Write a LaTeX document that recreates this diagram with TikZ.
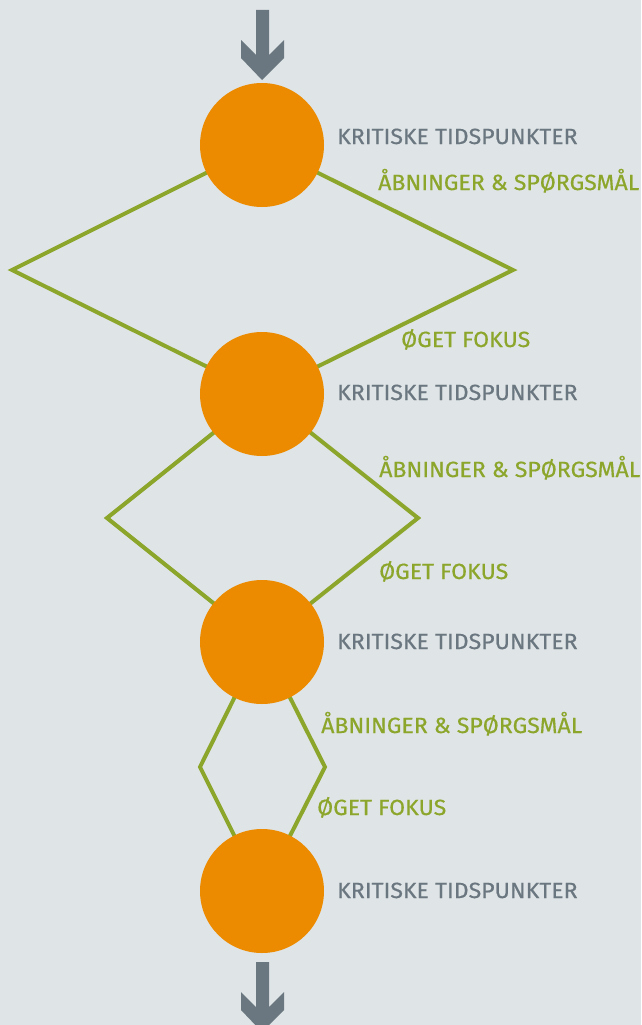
\documentclass[tikz,border=0pt]{standalone}
\usepackage{fontspec}
\setmainfont{Fira Sans}[FakeStretch=1.05,FakeBold=0.5]
\usepackage{tikz}
\usetikzlibrary{calc}

\definecolor{hintergrund}{RGB}{223,228,230}
\definecolor{orangefarbe}{RGB}{236,139,0}
\definecolor{gruen}{RGB}{139,166,43}
\definecolor{grautext}{RGB}{107,119,128}

\begin{document}
\begin{tikzpicture}[x=1pt,y=-1pt,
    punkt/.style={circle,fill=orangefarbe,minimum size=124pt,inner sep=0pt},
    raute/.style={draw=gruen,line width=4pt,line join=miter},
    grau/.style={anchor=base west,text=grautext,font=\fontsize{22}{22}\selectfont,inner sep=0pt},
    gruentext/.style={anchor=base west,text=gruen,font=\fontsize{22}{22}\selectfont,inner sep=0pt},
    pfeil/.style={fill=grautext}]
       \useasboundingbox(0,0)rectangle(641,1025);
       \fill[hintergrund](0,0)rectangle(641,1025);%Hintergrund
       \clip(0,0)rectangle(641,1025);

       \foreach \i/\y in{1/145,2/394,3/642,4/891}
           \coordinate(C\i)at(262,\y);%Mittelpunkte

       \coordinate(L1)at(12,270);\coordinate(R1)at(513,270);%Raute 1
       \coordinate(L2)at(107,518);\coordinate(R2)at(418,518);%Raute 2
       \coordinate(L3)at(200,767);\coordinate(R3)at(325,767);%Raute 3

       \foreach \i/\j in{1/2,2/3,3/4}
           \draw[raute](C\i)--(L\i)--(C\j)--(R\i)--cycle;%Rauten

       \foreach \i in{1,...,4}
           \node[punkt](K\i)at(C\i){};%Kreise

       \foreach \d in{0,952}
           \fill[pfeil](256,10+\d)--(269,10+\d)--(269,55+\d)--(284,40+\d)
           --(284,58+\d)--(262,80+\d)--(241,58+\d)--(241,40+\d)
           --(256,55+\d)--cycle;%Pfeile oben, unten

       \foreach \i/\y in{1/144,2/400,3/649,4/898}
           \node[grau](T\i)at(337,\y){KRITISKE TIDSPUNKTER};
       \node[gruentext](A1)at(378,190){ÅBNINGER \& SPØRGSMÅL};
       \node[gruentext](A2)at(379,477){ÅBNINGER \& SPØRGSMÅL};
       \node[gruentext](A3)at(321,733){ÅBNINGER \& SPØRGSMÅL};
       \node[gruentext](F1)at(401,347){ØGET FOKUS};
       \node[gruentext](F2)at(379,579){ØGET FOKUS};
       \node[gruentext](F3)at(317,815){ØGET FOKUS};
      \end{tikzpicture}
\end{document}
